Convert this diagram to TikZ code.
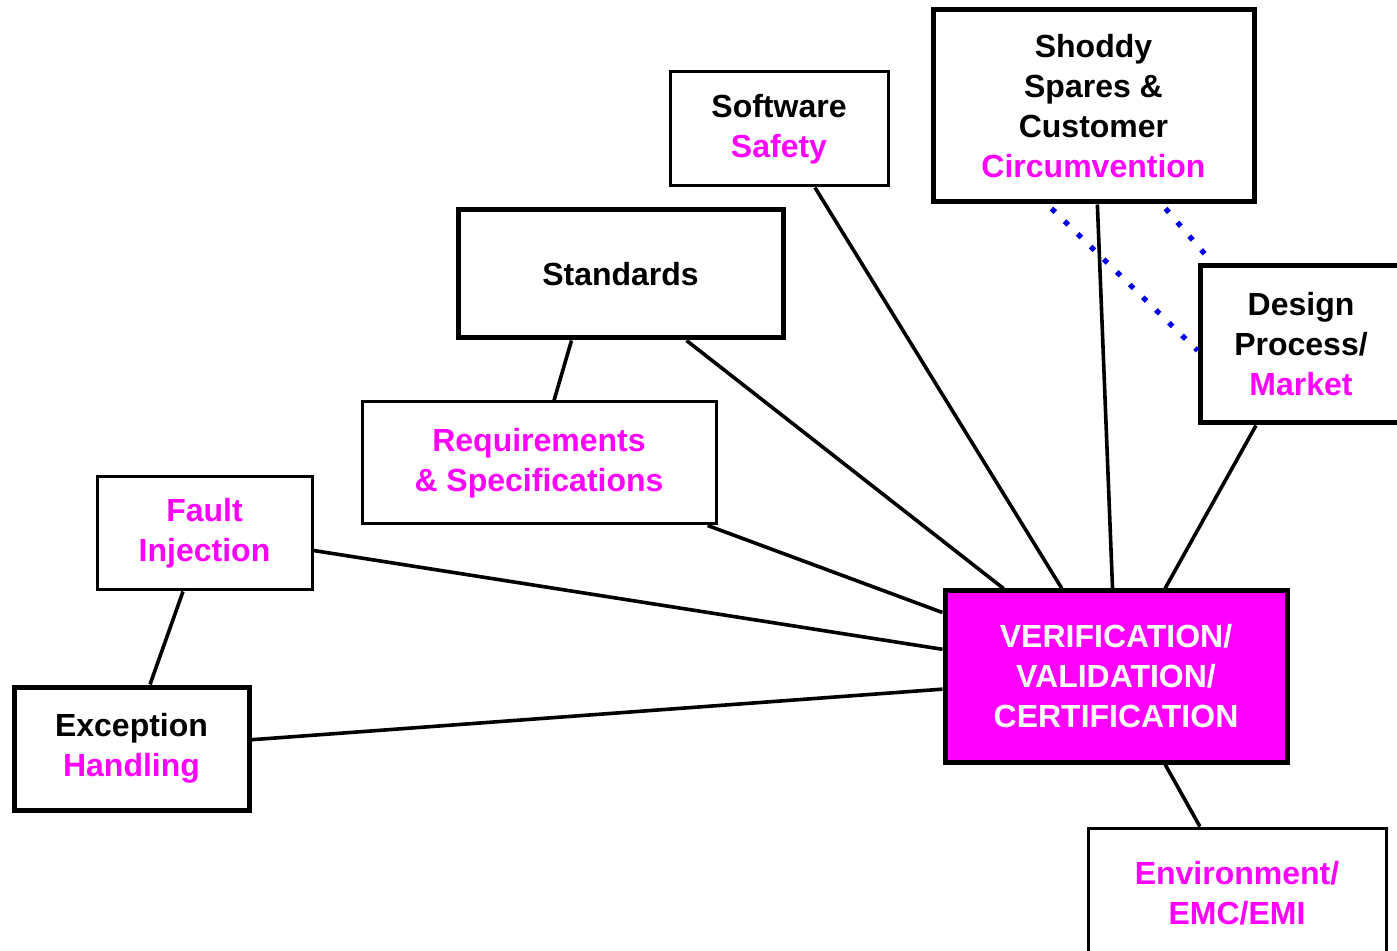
\documentclass[tikz,border=0pt]{standalone}
\usepackage{fontspec}
\setmainfont{Liberation Sans}
\usepackage{tikz}
\usetikzlibrary{calc}
\definecolor{vvpink}{RGB}{255,0,255}
\definecolor{vvblue}{RGB}{0,0,230}
\newcommand{\pk}[1]{\textcolor{vvpink}{#1}}

\begin{document}
\begin{tikzpicture}[x=0.5pt,y=-0.5pt,
  box/.style={draw, line width=1.5pt, inner sep=0pt, align=center,
    font=\fontsize{16}{20}\selectfont\bfseries},
  heavy/.style={box, line width=2.5pt},
  link/.style={line width=1.8pt},
  dots/.style={vvblue, line width=2.6pt, dash pattern=on 2.6pt off 6.5pt}]
\useasboundingbox (0,0) rectangle (1397,951);
\clip (0,0) rectangle (1397,951);
\fill[white] (0,0) rectangle (1397,951);

% boxes
\node[box, minimum width=109pt, minimum height=57pt] (soft) at (779,129) {Software\\\pk{Safety}};
\node[heavy, minimum width=160.5pt, minimum height=96pt] (shod) at (1093.5,106) {Shoddy\\Spares \&\\Customer\\\pk{Circumvention}};
\node[heavy, minimum width=162.5pt, minimum height=64pt] (std) at (620.5,274) {Standards};
\node[heavy, minimum width=101pt, minimum height=78.5pt] (des) at (1301,344.5) {Design\\Process/\\\pk{Market}};
\node[box, minimum width=177pt, minimum height=61pt] (req) at (539,463) {\pk{Requirements}\\\pk{\& Specifications}};
\node[box, minimum width=107.5pt, minimum height=56.5pt] (fault) at (204.5,533.5) {\pk{Fault}\\\pk{Injection}};
\node[heavy, minimum width=117.5pt, minimum height=61.5pt] (exc) at (131.5,748.5) {Exception\\\pk{Handling}};
\node[heavy, fill=vvpink, text=white, minimum width=171pt, minimum height=85.5pt] (vvc) at (1116,676.5) {VERIFICATION/\\VALIDATION/\\CERTIFICATION};
\node[box, minimum width=149pt, minimum height=65pt] (env) at (1237,893) {\pk{Environment/}\\\pk{EMC/EMI}};

% links to the centre box
\foreach \n in {soft,shod,des,req,fault,exc,env}
  \draw[link] (vvc) -- (\n);
\draw[link] (vvc) -- ([xshift=33pt]std.south);
\draw[link] ([xshift=-24.5pt]std.south) -- ([xshift=7.5pt]req.north);
\draw[link] ([xshift=-10.75pt]fault.south) -- ([xshift=9.25pt]exc.north);

% dotted lines
\coordinate (d1) at ($(des.west)+(0,6)$);
\coordinate (d2) at ($(des.north west)+(12,-4)$);
\draw[dots] ([xshift=-21pt,yshift=-2pt]shod.south) -- (d1);
\draw[dots] ([xshift=36pt,yshift=-2pt]shod.south) -- (d2);
\end{tikzpicture}
\end{document}
